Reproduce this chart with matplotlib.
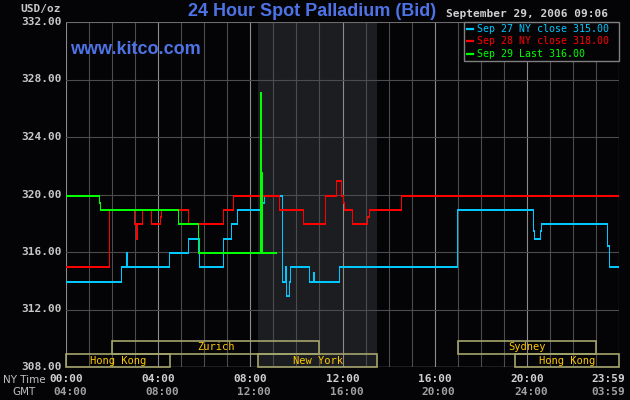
import matplotlib
matplotlib.use('Agg')
import matplotlib.pyplot as plt
from matplotlib import transforms
from matplotlib.patches import Rectangle
from matplotlib.lines import Line2D

# --- data (hours since 00:00 NY time, USD/oz) ---
blue_t = [0, 2.39, 2.62, 2.66, 4.48, 5.30, 5.78, 6.83, 7.17, 7.40, 8.52, 8.58,
          9.38, 9.50, 9.53, 9.68, 9.72, 10.54, 10.72, 10.76, 11.84, 16.97,
          20.27, 20.32, 20.58, 20.62, 23.49, 23.55, 24.0]
blue_v = [314, 315, 316, 315, 316, 317, 315, 317, 318, 319, 319.5, 320,
          314, 315, 313, 314, 315, 314, 314.6, 314, 315, 319,
          317.5, 317, 317.5, 318, 316.5, 315, 315]

red_t = [0, 1.88, 2.96, 3.02, 3.06, 3.29, 3.67, 4.10, 4.14, 5.28, 6.81, 7.23,
         9.23, 10.28, 11.23, 11.71, 11.93, 12.01, 12.06, 12.40, 13.07, 13.14,
         14.54, 24.0]
red_v = [315, 319, 318, 317, 318, 319, 318, 318.5, 319, 318, 319, 320,
         319, 318, 320, 321, 320, 319.5, 319, 318, 318.5, 319,
         320, 320]

green_t = [0, 1.45, 1.49, 4.84, 5.75, 8.44, 8.46, 8.48, 8.50, 9.12]
green_v = [320, 319.5, 319, 318, 316, 327.1, 316, 321.6, 316, 316]

series_colors = ['#00c8ff', '#ff0000', '#00ff00']
legend_labels = ['Sep 27 NY close 315.00', 'Sep 28 NY close 318.00', 'Sep 29 Last 316.00']

y_ticks = [308, 312, 316, 320, 324, 328, 332]
ny_ticks = [0, 4, 8, 12, 16, 20, 24]
ny_labels = ['00:00', '04:00', '08:00', '12:00', '16:00', '20:00', '23:59']
gmt_labels = ['04:00', '08:00', '12:00', '16:00', '20:00', '24:00', '03:59']

session_names = ['Hong Kong', 'Zurich', 'New York', 'Sydney', 'Hong Kong']
session_start = [0, 2.0, 8.35, 17.0, 19.5]
session_end = [4.5, 11.0, 13.5, 23.0, 24.0]
session_row = [0, 1, 0, 1, 0]

comex_open, comex_close = 8.35, 13.5

W, H = 630, 400
BG = '#040406'
fig = plt.figure(figsize=(W / 100, H / 100), dpi=100, facecolor=BG)
ax = fig.add_axes([66 / W, 33 / H, 553 / W, 345 / H])
ax.set_facecolor(BG)
ax.set_xlim(0, 24)
ax.set_ylim(308, 332)
for s in ax.spines.values():
    s.set_visible(False)
ax.set_xticks([])
ax.set_yticks([])

# shaded NY trading hours
ax.axvspan(comex_open, comex_close, color='#1b1d20', zorder=0, lw=0)

# grid
for h in range(25):
    c = '#8c8c8c' if h % 4 == 0 else '#4c4c4c'
    ax.axvline(h, color=c, lw=0.8, zorder=1)
for v in y_ticks[1:-1]:
    ax.axhline(v, color='#4c4c4c', lw=0.8, zorder=1)
ax.axhline(332, color='#6c6c6c', lw=0.8, zorder=1)
ax.axhline(308, color='#808080', lw=1.0, zorder=1)

# session boxes
row_h = 13 / 345
for name, a, b, r in zip(session_names, session_start, session_end, session_row):
    tr = ax.get_xaxis_transform()
    ax.add_patch(Rectangle((a, r * row_h), b - a, row_h, transform=tr, fill=False,
                           edgecolor='#a4a46c', lw=1.2, zorder=2, clip_on=False))
    ax.text((a + b) / 2, r * row_h + row_h / 2, name, transform=tr, ha='center',
            va='center', color='#ffc800', fontsize=7.5, family='DejaVu Sans Mono',
            zorder=3)

# price lines: 2px horizontal, 1px vertical (same line twice, one pixel apart)
off = transforms.offset_copy(ax.transData, fig=fig, x=0, y=-1, units='dots')
for t, v, c in zip([blue_t, red_t, green_t], [blue_v, red_v, green_v], series_colors):
    ax.plot(t, v, drawstyle='steps-post', color=c, lw=0.72, zorder=4, antialiased=False)
    ax.plot(t, v, drawstyle='steps-post', color=c, lw=0.72, zorder=4, antialiased=False,
            transform=off)

# y tick labels
for v in y_ticks:
    ax.text(-4 / 23, v, '%.2f' % v, ha='right', va='center', color='#c8c8c8',
            fontsize=8, family='DejaVu Sans Mono', fontweight='bold',
            transform=ax.transData, clip_on=False)

# x labels (NY time and GMT)
xt = ax.get_xaxis_transform()
for i, (h, a, b) in enumerate(zip(ny_ticks, ny_labels, gmt_labels)):
    ha = 'right' if i == len(ny_ticks) - 1 else 'center'
    xx = h + (6 / 23 if ha == 'right' else 0)
    ax.text(xx, -12 / 345, a, transform=xt, ha=ha, va='center', color='#d0d0d0',
            fontsize=8, family='DejaVu Sans Mono', fontweight='bold', clip_on=False)
    xg = xx if ha == 'right' else h + 4 / 23
    ax.text(xg, -25 / 345, b, transform=xt, ha=ha, va='center', color='#a0a0a0',
            fontsize=8, family='DejaVu Sans Mono', fontweight='bold', clip_on=False)

fig.text(3 / W, 1 - 380 / H, 'NY Time', ha='left', va='center', color='#c0c0c0',
         fontsize=7.5, family='DejaVu Sans')
fig.text(12 / W, 1 - 392 / H, 'GMT', ha='left', va='center', color='#c0c0c0',
         fontsize=7.5, family='DejaVu Sans')

# header texts
fig.text(20 / W, 1 - 9 / H, 'USD/oz', ha='left', va='center', color='#c8c8c8',
         fontsize=8, family='DejaVu Sans Mono', fontweight='bold')
fig.text(312 / W, 1 - 12 / H, '24 Hour Spot Palladium (Bid)', ha='center', va='center',
         color='#4d73e6', fontsize=13, family='Liberation Sans', fontweight='bold')
fig.text(608 / W, 1 - 14 / H, 'September 29, 2006 09:06', ha='right', va='center',
         color='#d0d0d0', fontsize=8, family='DejaVu Sans Mono', fontweight='bold')
fig.text(70 / W, 1 - 49 / H, 'www.kitco.com', ha='left', va='center',
         color='#4d73e6', fontsize=13, family='Liberation Sans', fontweight='bold')

# legend box
fig.add_artist(Rectangle((464 / W, 1 - 61 / H), 155 / W, 39 / H, transform=fig.transFigure,
                         facecolor=BG, edgecolor='#808080', lw=1, zorder=5))
for i, (lab, c) in enumerate(zip(legend_labels, series_colors)):
    yy = 1 - (29 + 12.3 * i) / H
    fig.add_artist(Line2D([467 / W, 473 / W], [yy, yy], color=c, lw=1.6,
                          transform=fig.transFigure, zorder=6))
    fig.text(477 / W, yy, lab, ha='left', va='center', color=c, fontsize=7.2,
             family='DejaVu Sans Mono', zorder=6)

fig.savefig('out.png', dpi=100, facecolor=BG)
